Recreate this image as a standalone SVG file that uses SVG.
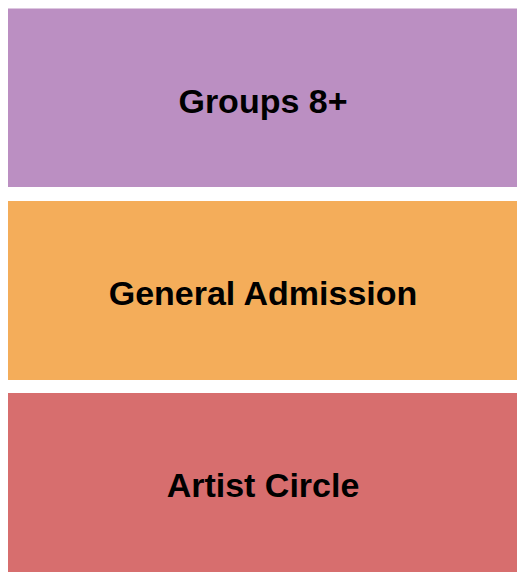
<svg xmlns="http://www.w3.org/2000/svg" width="525" height="580" viewBox="0 0 525 580">
<style>
.lbl{font-family:"Liberation Sans",Arial,sans-serif;font-weight:bold;font-size:34px;fill:#000;text-anchor:middle}
</style>
<rect width="525" height="580" fill="#fff"/>
<g id="groups">
<rect x="8" y="8.5" width="509" height="178.5" fill="#BB8FC2"/>
<text class="lbl" x="263" y="112.5">Groups 8+</text>
</g>
<g id="general-admission">
<rect x="8" y="201" width="509" height="179" fill="#F4AD5A"/>
<text class="lbl" x="263" y="304.5">General Admission</text>
</g>
<g id="artist-circle">
<rect x="8" y="393" width="509" height="179" fill="#D76E6E"/>
<text class="lbl" x="263" y="497">Artist Circle</text>
</g>
<g id="connectors"/>
</svg>
